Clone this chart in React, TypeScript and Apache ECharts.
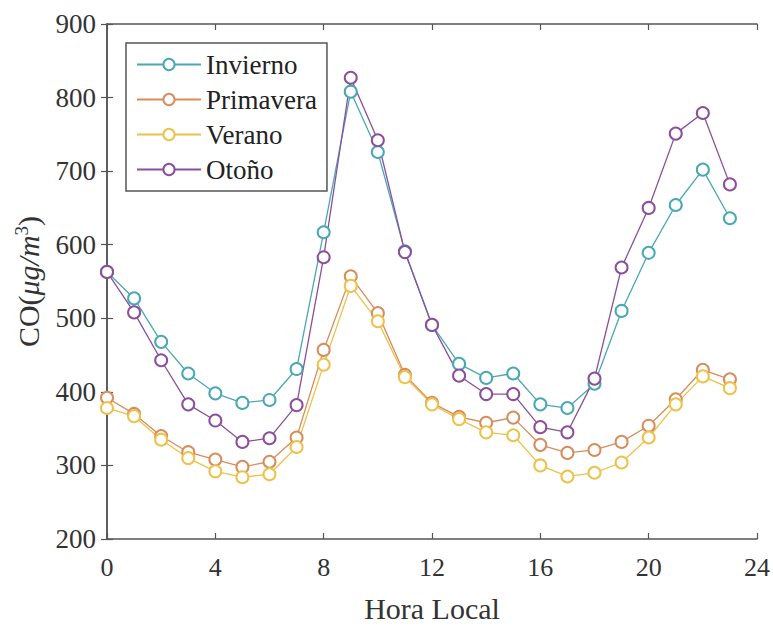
import React, { useEffect, useRef } from "react";
import * as echarts from "echarts";

const hours = [0,1,2,3,4,5,6,7,8,9,10,11,12,13,14,15,16,17,18,19,20,21,22,23];
const invierno = [563,527,468,425,398,385,389,431,617,808,726,591,491,438,419,425,383,378,411,510,589,654,702,636];
const primavera = [392,370,340,318,308,298,305,338,457,557,507,423,385,366,358,365,328,317,321,332,354,390,430,417];
const verano = [378,367,335,310,292,284,288,325,437,544,496,420,383,363,345,341,300,285,290,304,338,383,421,405];
const otono = [563,508,443,383,361,332,337,382,583,827,742,590,491,422,397,397,352,345,418,569,650,751,779,682];
const xTicks = [0,4,8,12,16,20,24];
const yTicks = [200,300,400,500,600,700,800,900];

const seriesNames = ["Invierno", "Primavera", "Verano", "Otoño"];
const seriesColors = ["#4aa8b4", "#d88d5c", "#ecc24a", "#8b4f9c"];

const FONT = "'Liberation Serif', 'Times New Roman', serif";

export default function App() {
  const ref = useRef<HTMLDivElement>(null);
  useEffect(() => {
    document.body.style.margin = "0";
    if (!ref.current) return;
    const chart = echarts.init(ref.current, undefined, { renderer: "svg" });
    const allData = [invierno, primavera, verano, otono];
    const axisColor = "#555";
    const common = {
      axisLine: { show: true, lineStyle: { color: axisColor, width: 1.5 } },
      axisTick: { show: true, inside: true, length: 6, lineStyle: { color: axisColor, width: 1.2 } },
      splitLine: { show: false },
    };
    chart.setOption({
      animation: false,
      backgroundColor: "#fff",
      textStyle: { fontFamily: FONT },
      grid: { left: 107, top: 24, right: 14, bottom: 77, containLabel: false },
      legend: {
        show: true,
        orient: "vertical",
        left: 126,
        top: 43,
        data: seriesNames,
        itemWidth: 64,
        itemHeight: 14,
        itemGap: 8,
        padding: [8, 10, 8, 10],
        borderColor: "#555",
        borderWidth: 1.5,
        backgroundColor: "#fff",
        textStyle: { fontFamily: FONT, fontSize: 27, color: "#222", lineHeight: 27 },
      },
      xAxis: [
        {
          type: "value",
          min: 0,
          max: 24,
          interval: 4,
          name: "Hora Local",
          nameLocation: "middle",
          nameGap: 54,
          nameTextStyle: { fontFamily: FONT, fontSize: 30, color: "#333" },
          axisLabel: {
            margin: 15,
            fontFamily: FONT,
            fontSize: 26,
            color: "#333",
            customValues: xTicks,
          },
          ...common,
        },
        {
          type: "value",
          position: "top",
          min: 0,
          max: 24,
          interval: 4,
          axisLabel: { show: false },
          ...common,
        },
      ],
      yAxis: [
        {
          type: "value",
          min: 200,
          max: 900,
          interval: 100,
          name: "{a|CO(}{i|μg/m}{s|3}{a|)}",
          nameLocation: "middle",
          nameRotate: 90,
          nameGap: 62,
          nameTextStyle: {
            fontFamily: FONT,
            fontSize: 30,
            color: "#333",
            rich: {
              a: { fontFamily: FONT, fontSize: 30, color: "#333" },
              i: { fontFamily: FONT, fontSize: 30, fontStyle: "italic", color: "#333" },
              s: { fontFamily: FONT, fontSize: 19, color: "#333", verticalAlign: "top", padding: [0, 0, 14, 0] },
            },
          },
          axisLabel: {
            margin: 11,
            fontFamily: FONT,
            fontSize: 27,
            color: "#333",
            customValues: yTicks,
          },
          ...common,
        },
        {
          type: "value",
          position: "right",
          min: 200,
          max: 900,
          interval: 100,
          axisLabel: { show: false },
          ...common,
        },
      ],
      series: seriesNames.map((name, i) => ({
        name,
        type: "line",
        xAxisIndex: 0,
        yAxisIndex: 0,
        data: hours.map((h, j) => [h, allData[i][j]]),
        symbol: "emptyCircle",
        symbolSize: 12,
        lineStyle: { color: seriesColors[i], width: 1.3 },
        itemStyle: { color: seriesColors[i], borderColor: seriesColors[i], borderWidth: 1.3 },
        emphasis: { disabled: true },
      })),
    });
    return () => chart.dispose();
  }, []);
  return <div ref={ref} style={{ width: 773, height: 628 }} />;
}
